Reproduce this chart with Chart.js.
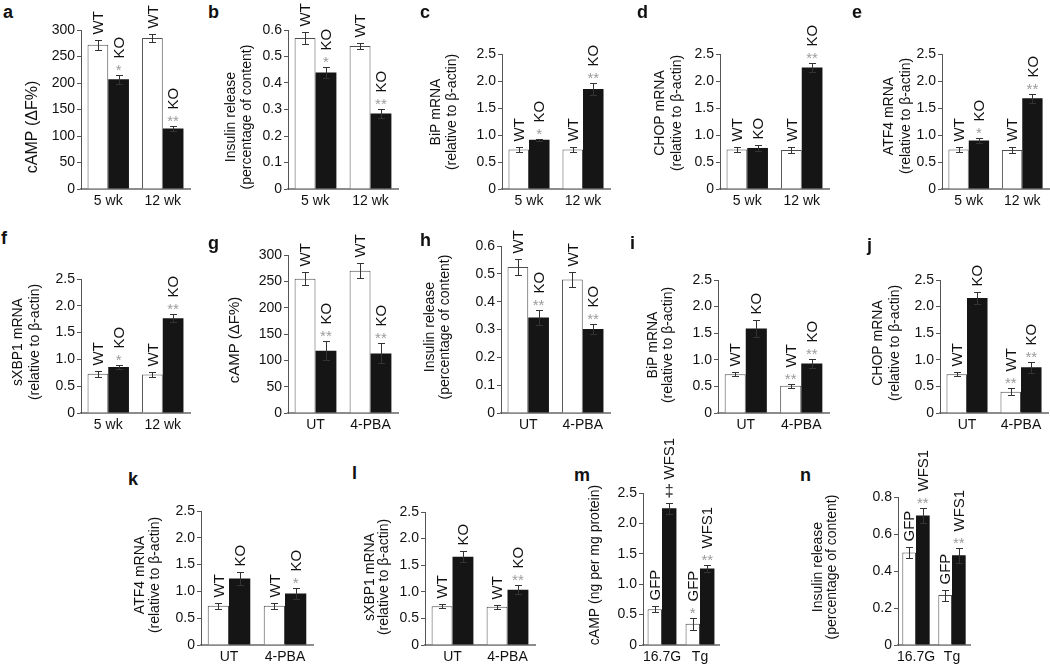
<!DOCTYPE html>
<html>
<head>
<meta charset="utf-8">
<script src="https://cdn.jsdelivr.net/npm/chart.js@4.4.1/dist/chart.umd.min.js"></script>
<style>
  body { margin: 0; background: #fff; }
  #fig { position: relative; width: 1050px; height: 664px; overflow: hidden; font-family: "Liberation Sans", Arial, sans-serif; }
  #fig canvas { position: absolute; }
  .lt { position: absolute; font-weight: bold; font-size: 18px; line-height: 18px; color: #111; }
</style>
</head>
<body>
<div id="fig"></div>
<script>
// categories
const ageCats = ['5 wk', '12 wk'];
const drugCats = ['UT', '4-PBA'];
const glucoseCats = ['16.7G', 'Tg'];

// y tick values + labels
const campTicks = [0, 50, 100, 150, 200, 250, 300];
const campTickText = ['0', '50', '100', '150', '200', '250', '300'];
const insTicks = [0, 0.1, 0.2, 0.3, 0.4, 0.5, 0.6];
const insTickText = ['0', '0.1', '0.2', '0.3', '0.4', '0.5', '0.6'];
const rnaTicks = [0, 0.5, 1.0, 1.5, 2.0, 2.5];
const rnaTickText = ['0', '0.5', '1.0', '1.5', '2.0', '2.5'];
const ins8Ticks = [0, 0.2, 0.4, 0.6, 0.8];
const ins8TickText = ['0', '0.2', '0.4', '0.6', '0.8'];

const noStar = ['', ''];

// a - cAMP, age
const aWT = [272, 285], aWTerr = [9, 8], aKO = [207, 114], aKOerr = [9, 5], aKOstar = ['*', '**'];
// b - insulin, age
const bWT = [0.57, 0.54], bWTerr = [0.022, 0.01], bKO = [0.44, 0.285], bKOerr = [0.02, 0.016], bKOstar = ['*', '**'];
// c - BiP, age
const cWT = [0.73, 0.73], cWTerr = [0.05, 0.045], cKO = [0.91, 1.85], cKOerr = [0.025, 0.11], cKOstar = ['*', '**'];
// d - CHOP, age
const dWT = [0.73, 0.72], dWTerr = [0.05, 0.05], dKO = [0.76, 2.25], dKOerr = [0.06, 0.08], dKOstar = ['', '**'];
// e - ATF4, age
const eWT = [0.73, 0.72], eWTerr = [0.04, 0.05], eKO = [0.90, 1.68], eKOerr = [0.04, 0.08], eKOstar = ['*', '**'];
// f - sXBP1, age
const fWT = [0.73, 0.72], fWTerr = [0.05, 0.05], fKO = [0.86, 1.77], fKOerr = [0.04, 0.07], fKOstar = ['*', '**'];
// g - cAMP, 4-PBA
const gWT = [255, 270], gWTerr = [12, 14], gKO = [118, 113], gKOerr = [18, 19], gKOstar = ['**', '**'];
// h - insulin, 4-PBA
const hWT = [0.525, 0.48], hWTerr = [0.028, 0.028], hKO = [0.343, 0.302], hKOerr = [0.026, 0.018], hKOstar = ['**', '**'];
// i - BiP, 4-PBA
const iWT = [0.73, 0.51], iWTerr = [0.04, 0.04], iKO = [1.59, 0.93], iKOerr = [0.16, 0.09], iWTstar = ['', '**'], iKOstar = ['', '**'];
// j - CHOP, 4-PBA
const jWT = [0.73, 0.40], jWTerr = [0.04, 0.07], jKO = [2.16, 0.86], jKOerr = [0.12, 0.1], jWTstar = ['', '**'], jKOstar = ['', '**'];
// k - ATF4, 4-PBA
const kWT = [0.73, 0.73], kWTerr = [0.05, 0.05], kKO = [1.24, 0.96], kKOerr = [0.12, 0.11], kKOstar = ['', '*'];
// l - sXBP1, 4-PBA
const lWT = [0.73, 0.72], lWTerr = [0.04, 0.04], lKO = [1.66, 1.04], lKOerr = [0.1, 0.08], lKOstar = ['', '**'];
// m - cAMP, GFP vs WFS1
const mGFP = [0.59, 0.35], mGFPerr = [0.05, 0.1], mWFS = [2.25, 1.26], mWFSerr = [0.09, 0.06], mGFPstar = ['', '*'], mWFSstar = ['\u2021', '**'];
// n - insulin, GFP vs WFS1
const nGFP = [0.50, 0.27], nGFPerr = [0.03, 0.03], nWFS = [0.70, 0.485], nWFSerr = [0.04, 0.04], nWFSstar = ['**', '**'];

const rnaTitle = name => [name + ' mRNA', '(relative to \u03b2-actin)'];
const insTitle = ['Insulin release', '(percentage of content)'];

// layout: box = [axis left, axis right, y of top tick, y of zero]
const panels = [
  { id: 'a', lt: [3, 3],   cats: ageCats, tags: ['WT', 'KO'], s1: [aWT, aWTerr, noStar], s2: [aKO, aKOerr, aKOstar], ticks: campTicks, tickText: campTickText, box: [81, 190, 30, 189], top: 0, title: ['cAMP (\u0394F%)'], tx: [33], ty: 127, tsize: 16 },
  { id: 'b', lt: [208, 3], cats: ageCats, tags: ['WT', 'KO'], s1: [bWT, bWTerr, noStar], s2: [bKO, bKOerr, bKOstar], ticks: insTicks, tickText: insTickText, box: [288, 398, 30, 189], top: 0, title: insTitle, tx: [231, 247], ty: 117 },
  { id: 'c', lt: [420, 3], cats: ageCats, tags: ['WT', 'KO'], s1: [cWT, cWTerr, noStar], s2: [cKO, cKOerr, cKOstar], ticks: rnaTicks, tickText: rnaTickText, box: [502, 610, 54, 189], top: 0, title: rnaTitle('BiP'), tx: [436, 452], ty: 112 },
  { id: 'd', lt: [637, 3], cats: ageCats, tags: ['WT', 'KO'], s1: [dWT, dWTerr, noStar], s2: [dKO, dKOerr, dKOstar], ticks: rnaTicks, tickText: rnaTickText, box: [720, 829, 54, 189], top: 0, title: rnaTitle('CHOP'), tx: [660, 677], ty: 113 },
  { id: 'e', lt: [852, 3], cats: ageCats, tags: ['WT', 'KO'], s1: [eWT, eWTerr, noStar], s2: [eKO, eKOerr, eKOstar], ticks: rnaTicks, tickText: rnaTickText, box: [942, 1049, 54, 189], top: 0, title: rnaTitle('ATF4'), tx: [889, 906], ty: 116 },

  { id: 'f', lt: [1, 229],   cats: ageCats, tags: ['WT', 'KO'], s1: [fWT, fWTerr, noStar], s2: [fKO, fKOerr, fKOstar], ticks: rnaTicks, tickText: rnaTickText, box: [81, 190, 279, 413], top: 215, title: rnaTitle('sXBP1'), tx: [18, 35], ty: 342 },
  { id: 'g', lt: [208, 234], cats: drugCats, tags: ['WT', 'KO'], s1: [gWT, gWTerr, noStar], s2: [gKO, gKOerr, gKOstar], ticks: campTicks, tickText: campTickText, box: [288, 398, 255, 413], top: 215, title: ['cAMP (\u0394F%)'], tx: [235], ty: 340, tsize: 15 },
  { id: 'h', lt: [420, 231], cats: drugCats, tags: ['WT', 'KO'], s1: [hWT, hWTerr, noStar], s2: [hKO, hKOerr, hKOstar], ticks: insTicks, tickText: insTickText, box: [501, 610, 246, 413], top: 215, title: insTitle, tx: [430, 445], ty: 327 },
  { id: 'i', lt: [630, 234], cats: drugCats, tags: ['WT', 'KO'], s1: [iWT, iWTerr, iWTstar], s2: [iKO, iKOerr, iKOstar], ticks: rnaTicks, tickText: rnaTickText, box: [718, 829, 280, 413], top: 215, title: rnaTitle('BiP'), tx: [653, 668], ty: 345 },
  { id: 'j', lt: [867, 236], cats: drugCats, tags: ['WT', 'KO'], s1: [jWT, jWTerr, jWTstar], s2: [jKO, jKOerr, jKOstar], ticks: rnaTicks, tickText: rnaTickText, box: [940, 1048, 280, 413], top: 215, title: rnaTitle('CHOP'), tx: [878, 895], ty: 343 },

  { id: 'k', lt: [128, 470], cats: drugCats, tags: ['WT', 'KO'], s1: [kWT, kWTerr, noStar], s2: [kKO, kKOerr, kKOstar], ticks: rnaTicks, tickText: rnaTickText, box: [201, 313, 511, 645], top: 455, title: rnaTitle('ATF4'), tx: [140, 155], ty: 575 },
  { id: 'l', lt: [352, 464], cats: drugCats, tags: ['WT', 'KO'], s1: [lWT, lWTerr, noStar], s2: [lKO, lKOerr, lKOstar], ticks: rnaTicks, tickText: rnaTickText, box: [425, 535, 512, 645], top: 455, title: rnaTitle('sXBP1'), tx: [370, 384], ty: 577 },
  { id: 'm', lt: [574, 466], cats: glucoseCats, tags: ['GFP', 'WFS1'], s1: [mGFP, mGFPerr, mGFPstar], s2: [mWFS, mWFSerr, mWFSstar], ticks: rnaTicks, tickText: rnaTickText, box: [643, 719, 493, 645], top: 437, title: ['cAMP (ng per mg protein)'], tx: [595], ty: 565 },
  { id: 'n', lt: [800, 466], cats: glucoseCats, tags: ['GFP', 'WFS1'], s1: [nGFP, nGFPerr, noStar], s2: [nWFS, nWFSerr, nWFSstar], ticks: ins8Ticks, tickText: ins8TickText, box: [898, 970, 497, 645], top: 437, title: insTitle, tx: [818, 832], ty: 567 }
];

const FONT = '"Liberation Sans", Arial, sans-serif';

// error bars, stars, rotated group tags and the y titles
const notes = {
  id: 'notes',
  afterDatasetsDraw(chart, args, opts) {
    const ctx = chart.ctx;
    const ys = chart.scales.y;
    ctx.save();
    chart.data.datasets.forEach((ds, di) => {
      chart.getDatasetMeta(di).data.forEach((bar, i) => {
        const v = ds.data[i], e = ds.err[i];
        const hi = Math.round(ys.getPixelForValue(v + e)) + 0.5;
        const lo = Math.round(ys.getPixelForValue(v - e)) + 0.5;
        const x = Math.round(bar.x) + 0.5;
        ctx.strokeStyle = '#333';
        ctx.lineWidth = 1;
        ctx.beginPath();
        ctx.moveTo(x, lo); ctx.lineTo(x, hi);
        ctx.moveTo(x - 3.5, hi); ctx.lineTo(x + 3.5, hi);
        ctx.moveTo(x - 3.5, lo); ctx.lineTo(x + 3.5, lo);
        ctx.stroke();

        let yy = hi - 6;
        const s = ds.star[i];
        if (s) {
          const dagger = s === '\u2021';
          ctx.fillStyle = dagger ? '#222' : '#9b9b9b';
          ctx.font = (dagger ? '16px ' : '15px ') + FONT;
          ctx.textAlign = 'center';
          ctx.textBaseline = 'alphabetic';
          ctx.fillText(s, bar.x, dagger ? hi - 8 : hi - 1);
          yy = dagger ? hi - 24 : hi - 17;
        }
        ctx.save();
        ctx.translate(bar.x, yy);
        ctx.rotate(-Math.PI / 2);
        ctx.fillStyle = '#111';
        ctx.font = '15px ' + FONT;
        ctx.textAlign = 'left';
        ctx.textBaseline = 'middle';
        ctx.fillText(ds.tag, 0, 1);
        ctx.restore();
      });
    });

    ctx.fillStyle = '#111';
    ctx.font = (opts.tsize || 14) + 'px ' + FONT;
    ctx.textAlign = 'center';
    ctx.textBaseline = 'middle';
    opts.title.forEach((t, k) => {
      ctx.save();
      ctx.translate(opts.tx[k], opts.ty);
      ctx.rotate(-Math.PI / 2);
      ctx.fillText(t, 0, 0);
      ctx.restore();
    });
    ctx.restore();
  }
};

const fig = document.getElementById('fig');

panels.forEach(p => {
  const [ax, ar, yt, yb] = p.box;
  const yw = Math.min(100, ax);
  const cl = ax - yw;
  const cw = ar - cl + 8;
  const chh = yb - p.top + 26;

  const letter = document.createElement('div');
  letter.className = 'lt';
  letter.textContent = p.id;
  letter.style.left = p.lt[0] + 'px';
  letter.style.top = p.lt[1] + 'px';
  fig.appendChild(letter);

  const cv = document.createElement('canvas');
  cv.width = cw;
  cv.height = chh;
  cv.style.left = cl + 'px';
  cv.style.top = p.top + 'px';
  fig.appendChild(cv);

  new Chart(cv, {
    type: 'bar',
    data: {
      labels: p.cats,
      datasets: [
        {
          data: p.s1[0], err: p.s1[1], star: p.s1[2], tag: p.tags[0],
          backgroundColor: '#ffffff', borderColor: '#4d4d4d', borderWidth: 1,
          categoryPercentage: 0.76, barPercentage: 1.0,
        },
        {
          data: p.s2[0], err: p.s2[1], star: p.s2[2], tag: p.tags[1],
          backgroundColor: '#151515', borderColor: '#151515', borderWidth: 0,
          categoryPercentage: 0.76, barPercentage: 1.0,
        },
      ],
    },
    options: {
      responsive: false,
      animation: false,
      devicePixelRatio: 1,
      layout: { padding: { top: yt - p.top, right: 8, left: 0, bottom: 0 } },
      plugins: {
        legend: { display: false },
        tooltip: { enabled: false },
        notes: { title: p.title, tx: p.tx.map(v => v - cl), ty: p.ty - p.top, tsize: p.tsize },
      },
      scales: {
        x: {
          offset: true,
          grid: { display: false, drawTicks: false },
          border: { display: true, color: '#8c8c8c', width: 2 },
          ticks: { padding: 4, color: '#111', font: { family: FONT, size: 14 }, maxRotation: 0, autoSkip: false },
          afterFit(s) { s.height = 26; },
        },
        y: {
          min: 0,
          max: p.ticks[p.ticks.length - 1],
          afterBuildTicks(s) { s.ticks = p.ticks.map(v => ({ value: v })); },
          ticks: { padding: 2, color: '#111', font: { family: FONT, size: 14 }, callback: (v, i) => p.tickText[i] },
          grid: { drawOnChartArea: false, tickLength: 4, color: '#555' },
          border: { display: true, color: '#555', width: 1 },
          afterFit(s) { s.width = yw; },
        },
      },
    },
    plugins: [notes],
  });
});
</script>
</body>
</html>
